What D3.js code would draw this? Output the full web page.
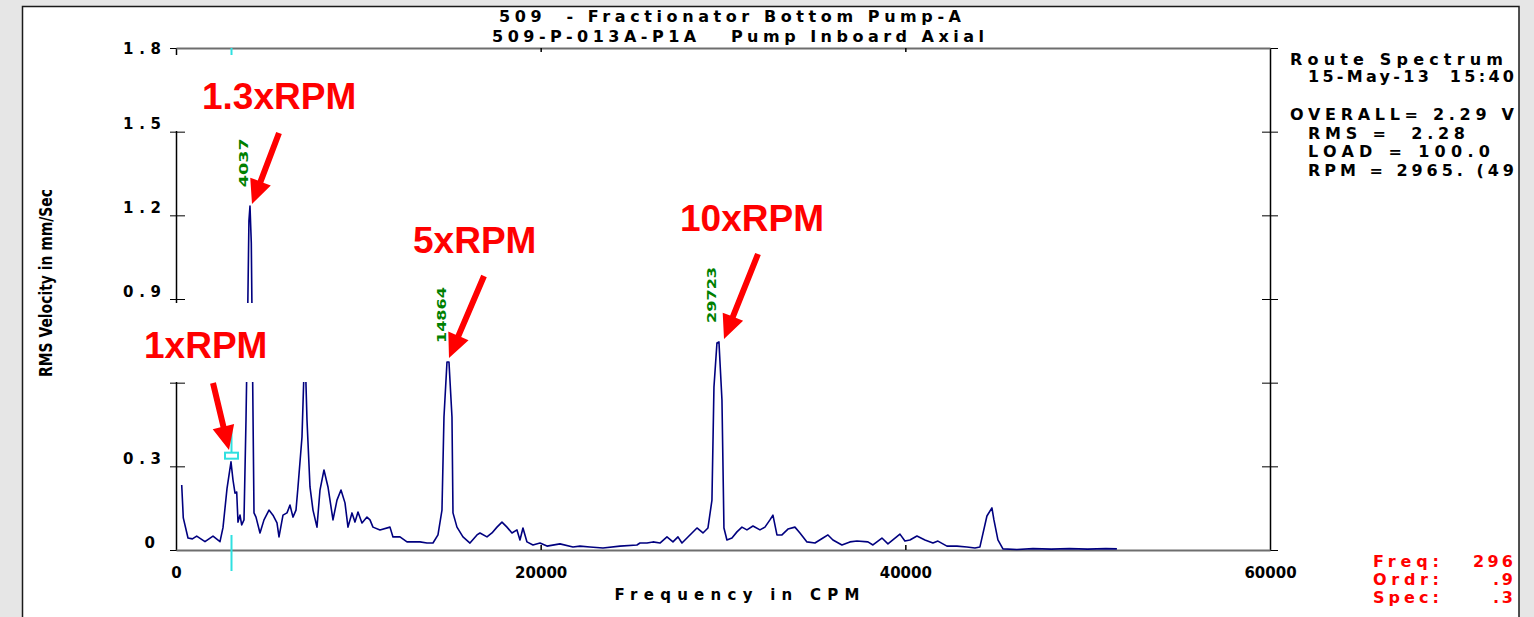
<!DOCTYPE html>
<html>
<head>
<meta charset="utf-8">
<script src="https://cdnjs.cloudflare.com/ajax/libs/d3/7.8.5/d3.min.js"></script>
<style>
    html, body { margin: 0; padding: 0; background: #e6e6e6; }
    svg { display: block; }
    text { font-family: "DejaVu Sans", "Liberation Sans", sans-serif; font-weight: bold; white-space: pre; }
    text.callout { font-family: "Liberation Sans", Arial, sans-serif; }
</style>
</head>
<body>
<svg id="chart" width="1534" height="617"></svg>
<script>
// Route spectrum. Frequency in CPM, amplitude in mm/s RMS
var freqCpm = [
    313, 400, 658, 900, 1135, 1590, 2029, 2413, 2577, 2797, 3016, 3126, 3236, 3329, 3400, 3510,
    3603, 3729, 3839, 3932, 4000, 4058, 4130, 4206, 4278, 4387, 4607, 4826, 5100, 5319, 5539, 5649,
    5868, 6087, 6252, 6416, 6581, 6690, 6910, 7020, 7100, 7184, 7349, 7513, 7732, 7897, 8116, 8336,
    8610, 8829, 9049, 9268, 9432, 9652, 9816, 9981, 10200, 10474, 10639, 10803, 11187, 11736, 11900, 12284,
    12668, 13381, 13765, 14094, 14368, 14587, 14697, 14862, 14971, 15136, 15191, 15410, 15739, 16123, 16507, 16671,
    17055, 17329, 17604, 17878, 18152, 18426, 18700, 18865, 19029, 19249, 19578, 19962, 20346, 21059, 21771, 22155,
    22703, 23417, 24349, 25281, 25446, 25830, 26159, 26543, 26927, 27255, 27530, 27749, 28023, 28572, 28901, 29175,
    29394, 29504, 29668, 29778, 29943, 30052, 30216, 30491, 30765, 31039, 31313, 31643, 32027, 32301, 32575, 32739,
    32959, 33233, 33562, 33946, 34220, 34604, 35043, 35482, 35756, 36030, 36523, 36962, 37346, 37949, 38223, 38717,
    39046, 39704, 39978, 40252, 40636, 41075, 41514, 41788, 42282, 42830, 43378, 43817, 44091, 44475, 44749, 44859,
    45078, 45353, 46120, 47000, 48000, 49000, 50000, 51000, 51604
];
var ampRms = [
    0.233, 0.115, 0.043, 0.040, 0.050, 0.030, 0.050, 0.030, 0.080, 0.220, 0.316, 0.251, 0.204, 0.208, 0.100, 0.125,
    0.090, 0.108, 0.466, 0.850, 1.180, 1.233, 1.100, 0.600, 0.133, 0.118, 0.061, 0.108, 0.143, 0.125, 0.097, 0.047,
    0.125, 0.133, 0.161, 0.118, 0.143, 0.226, 0.405, 0.640, 0.660, 0.466, 0.226, 0.143, 0.082, 0.215, 0.287, 0.226,
    0.108, 0.179, 0.215, 0.169, 0.082, 0.133, 0.100, 0.136, 0.097, 0.118, 0.108, 0.082, 0.072, 0.082, 0.047, 0.047,
    0.029, 0.029, 0.025, 0.025, 0.054, 0.143, 0.477, 0.674, 0.674, 0.477, 0.133, 0.082, 0.047, 0.025, 0.054, 0.061,
    0.047, 0.061, 0.082, 0.100, 0.082, 0.061, 0.072, 0.036, 0.079, 0.029, 0.018, 0.025, 0.014, 0.022, 0.011, 0.014,
    0.011, 0.007, 0.014, 0.018, 0.025, 0.025, 0.029, 0.025, 0.047, 0.029, 0.047, 0.025, 0.043, 0.079, 0.061, 0.079,
    0.179, 0.584, 0.742, 0.746, 0.538, 0.079, 0.036, 0.043, 0.065, 0.082, 0.072, 0.086, 0.072, 0.082, 0.108, 0.125,
    0.054, 0.054, 0.075, 0.082, 0.061, 0.029, 0.025, 0.043, 0.054, 0.036, 0.018, 0.029, 0.032, 0.029, 0.018, 0.043,
    0.022, 0.057, 0.032, 0.036, 0.050, 0.036, 0.025, 0.032, 0.014, 0.014, 0.011, 0.007, 0.011, 0.122, 0.151, 0.108,
    0.036, 0.004, 0.002, 0.005, 0.003, 0.005, 0.003, 0.005, 0.004
];

// peak markers printed by the analyser
var peakFreq = [4058, 14900, 29720];
var peakAmp = [1.233, 0.674, 0.746];
var peakText = ["4037", "14864", "29723"];

var yTicks = [0, 0.3, 0.6, 0.9, 1.2, 1.5, 1.8];
var xTicks = [0, 20000, 40000, 60000];
var xMinorTicks = [20000, 40000];

var titleLines = ["509  - Fractionator Bottom Pump-A", "509-P-013A-P1A   Pump Inboard Axial"];
var yLabel = "RMS Velocity in mm/Sec";
var xLabel = "Frequency in CPM";
// only the part that shows inside the window
var infoLines = ["Route Spectrum", "15-May-13  15:40", "OVERALL= 2.29 V", "RMS =  2.28", "LOAD = 100.0", "RPM = 2965. (49"];
var cursorNames = ["Freq:", "Ordr:", "Spec:"];
var cursorValues = ["296", ".9", ".3"];
var cursorFreq = 2990;
var cursorAmp = 0.34;

// callouts pasted on the slide
var calloutText = ["1.3xRPM", "5xRPM", "10xRPM", "1xRPM"];

var W = 1534, H = 617;
var svg = d3.select("#chart");

var x = d3.scaleLinear().domain([0, 60000]).range([176, 1270]);
var y = d3.scaleLinear().domain([0, 1.8]).range([550, 48]);

// window frame
svg.append("rect").attr("width", W).attr("height", H).attr("fill", "#e6e6e6");
svg.append("rect").attr("x", 22).attr("y", 6).attr("width", 1497).attr("height", H - 6).attr("fill", "#fff");
svg.append("path")
    .attr("d", "M22.5," + H + "V6.5H1519V" + H)
    .attr("fill", "none").attr("stroke", "#1a1a1a").attr("stroke-width", 1.5);

svg.append("clipPath").attr("id", "panel")
    .append("rect").attr("x", 23).attr("y", 7).attr("width", 1495).attr("height", H - 7);
var g = svg.append("g").attr("clip-path", "url(#panel)");

// titles
g.selectAll("text.title")
    .data(titleLines)
    .enter().append("text")
    .attr("class", "title")
    .attr("x", function (d, i) { return i === 0 ? 499 : 492; })
    .attr("y", function (d, i) { return i === 0 ? 22 : 42; })
    .attr("textLength", function (d, i) { return i === 0 ? 462 : 492; })
    .attr("lengthAdjust", "spacing")
    .attr("font-size", 16)
    .attr("fill", "#000")
    .text(function (d) { return d; });

// axes
var axisLeft = d3.axisLeft(y).tickValues(yTicks).tickSize(-9).tickSizeOuter(0);
var gLeft = g.append("g").attr("transform", "translate(176,0)").call(axisLeft);
gLeft.select(".domain").attr("stroke", "#000").attr("stroke-width", 1.5);
gLeft.selectAll(".tick line").attr("x1", -6).attr("stroke", "#000");
gLeft.selectAll(".tick text")
    .text(function (d) { return d === 0 ? "0" : d3.format(".1f")(d); })
    .attr("x", function (d) { return d === 0 ? -21 : -15; })
    .attr("y", function (d) { return Math.max(y(d) - 8, 48) - y(d); })
    .attr("dy", "0.35em")
    .attr("textLength", function (d) { return d === 0 ? 11 : 38; })
    .attr("lengthAdjust", "spacing")
    .attr("font-size", 15)
    .attr("font-family", null)
    .attr("fill", "#000");

var axisRight = d3.axisRight(y).tickValues(yTicks).tickSize(-8).tickSizeOuter(0).tickFormat("");
var gRight = g.append("g").attr("transform", "translate(1270,0)").call(axisRight);
gRight.select(".domain").attr("stroke", "#000").attr("stroke-width", 1.5);
gRight.selectAll(".tick line").attr("x1", 8).attr("stroke", "#000");

var axisBottom = d3.axisBottom(x).tickValues(xTicks).tickSize(-5).tickSizeOuter(0).tickFormat(d3.format("d"));
var gBottom = g.append("g").attr("transform", "translate(0,550)").call(axisBottom);
gBottom.select(".domain").attr("stroke", "#6e6e6e").attr("stroke-width", 2);
gBottom.selectAll(".tick line").attr("stroke", "#000").attr("stroke-width", 1.5)
    .style("display", function (d) { return xMinorTicks.indexOf(d) < 0 ? "none" : null; });
gBottom.selectAll(".tick text")
    .attr("y", 28).attr("dy", null)
    .attr("font-size", 15)
    .attr("font-family", null)
    .attr("fill", "#000");

var axisTop = d3.axisTop(x).tickValues(xMinorTicks).tickSize(-4).tickSizeOuter(0).tickFormat("");
var gTop = g.append("g").attr("transform", "translate(0,48)").call(axisTop);
gTop.select(".domain").attr("stroke", "#6e6e6e").attr("stroke-width", 2);
gTop.selectAll(".tick line").attr("stroke", "#000").attr("stroke-width", 1.5);

// axis titles
g.append("text")
    .attr("transform", "translate(52,283) rotate(-90)")
    .attr("text-anchor", "middle")
    .attr("font-size", 17)
    .attr("textLength", 188)
    .attr("lengthAdjust", "spacingAndGlyphs")
    .text(yLabel);

g.append("text")
    .attr("x", 737).attr("y", 600)
    .attr("text-anchor", "middle")
    .attr("font-size", 15)
    .attr("textLength", 245)
    .attr("lengthAdjust", "spacing")
    .text(xLabel);

// spectrum trace
var line = d3.line()
    .x(function (d) { return x(d[0]); })
    .y(function (d) { return y(d[1]); });

g.append("path")
    .datum(d3.zip(freqCpm, ampRms))
    .attr("d", line)
    .attr("fill", "none")
    .attr("stroke", "#00007f")
    .attr("stroke-width", 1.6)
    .attr("stroke-linejoin", "round");

// peak frequency labels
g.selectAll("text.peak")
    .data(d3.range(peakText.length))
    .enter().append("text")
    .attr("class", "peak")
    .attr("transform", function (i) {
        return "translate(" + (x(peakFreq[i]) - 2) + "," + (y(peakAmp[i]) - 19) + ") rotate(-90)";
    })
    .attr("font-size", 13)
    .attr("textLength", function (i) { return peakText[i].length > 4 ? 56 : 49; })
    .attr("lengthAdjust", "spacingAndGlyphs")
    .attr("fill", "#008000")
    .text(function (i) { return peakText[i]; });

// cursor on 1xRPM
var cyan = "#2fe0e0";
var cx = Math.round(x(cursorFreq)) + 0.5;
g.append("line").attr("x1", cx).attr("x2", cx).attr("y1", 48).attr("y2", 56).attr("stroke", cyan).attr("stroke-width", 2);
g.append("line").attr("x1", cx).attr("x2", cx).attr("y1", y(cursorAmp) - 30).attr("y2", y(cursorAmp)).attr("stroke", cyan).attr("stroke-width", 2);
g.append("rect").attr("x", cx - 6.5).attr("y", y(cursorAmp) - 2.5).attr("width", 13).attr("height", 6)
    .attr("fill", "#fff").attr("stroke", cyan).attr("stroke-width", 2);
g.append("line").attr("x1", cx).attr("x2", cx).attr("y1", 535).attr("y2", 571).attr("stroke", cyan).attr("stroke-width", 2);

// info block on the right
var infoX = [1290, 1308, 1290, 1308, 1308, 1308];
var infoY = [65, 82, 120, 139, 157, 176];
var infoLen = [213, 206, 224, 157, 182, 206];
g.selectAll("text.info")
    .data(infoLines)
    .enter().append("text")
    .attr("class", "info")
    .attr("x", function (d, i) { return infoX[i]; })
    .attr("y", function (d, i) { return infoY[i]; })
    .attr("textLength", function (d, i) { return infoLen[i]; })
    .attr("lengthAdjust", "spacing")
    .attr("font-size", 16)
    .attr("fill", "#000")
    .text(function (d) { return d; });

// cursor readout, bottom right
g.selectAll("text.cur-name")
    .data(cursorNames)
    .enter().append("text")
    .attr("class", "cur-name")
    .attr("x", 1373)
    .attr("y", function (d, i) { return 567 + i * 18; })
    .attr("textLength", 66)
    .attr("lengthAdjust", "spacing")
    .attr("font-size", 16)
    .attr("fill", "#ff0000")
    .text(function (d) { return d; });
g.selectAll("text.cur-val")
    .data(cursorValues)
    .enter().append("text")
    .attr("class", "cur-val")
    .attr("x", function (d) { return d.charAt(0) === "." ? 1493 : 1473; })
    .attr("y", function (d, i) { return 567 + i * 18; })
    .attr("textLength", function (d) { return d.charAt(0) === "." ? 20 : 40; })
    .attr("lengthAdjust", "spacing")
    .attr("font-size", 16)
    .attr("fill", "#ff0000")
    .text(function (d) { return d; });

// white patches behind the callouts (they hide part of the plot)
var patches = [[172, 55, 193, 76], [118, 303, 200, 79]];
g.selectAll("rect.patch")
    .data(patches)
    .enter().append("rect")
    .attr("class", "patch")
    .attr("x", function (d) { return d[0]; })
    .attr("y", function (d) { return d[1]; })
    .attr("width", function (d) { return d[2]; })
    .attr("height", function (d) { return d[3]; })
    .attr("fill", "#fff");

// callout text and arrows
var calloutPos = [[202, 109], [413, 253], [680, 231], [144, 358]];
var arrowPos = [[279, 133, 252, 204], [484, 276, 449, 358], [758, 254, 724, 339], [213, 383, 229, 450]];

g.selectAll("text.callout")
    .data(calloutText)
    .enter().append("text")
    .attr("class", "callout")
    .attr("x", function (d, i) { return calloutPos[i][0]; })
    .attr("y", function (d, i) { return calloutPos[i][1]; })
    .attr("font-size", 37)
    .attr("fill", "#ff0000")
    .text(function (d) { return d; });

function arrowPoints(a) {
    var dx = a[2] - a[0], dy = a[3] - a[1];
    var len = Math.sqrt(dx * dx + dy * dy);
    var ux = dx / len, uy = dy / len, nx = -uy, ny = ux;
    var headLen = 24, headW = 11, shaftW = 3;
    var bx = a[2] - ux * headLen, by = a[3] - uy * headLen;
    return [
        [a[0] + nx * shaftW, a[1] + ny * shaftW],
        [bx + nx * shaftW, by + ny * shaftW],
        [bx + nx * headW, by + ny * headW],
        [a[2], a[3]],
        [bx - nx * headW, by - ny * headW],
        [bx - nx * shaftW, by - ny * shaftW],
        [a[0] - nx * shaftW, a[1] - ny * shaftW]
    ].join(" ");
}

g.selectAll("polygon.arrow")
    .data(arrowPos)
    .enter().append("polygon")
    .attr("class", "arrow")
    .attr("points", arrowPoints)
    .attr("fill", "#ff0000");
</script>
</body>
</html>
